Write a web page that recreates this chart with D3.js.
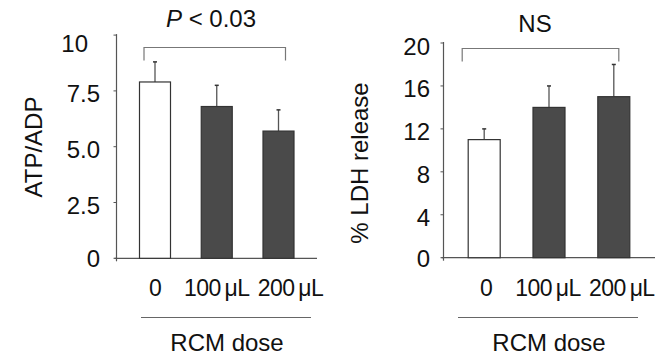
<!DOCTYPE html>
<html><head><meta charset="utf-8">
<script src="https://cdn.jsdelivr.net/npm/d3@7"></script>
<style>
body{margin:0;background:#fff;}
svg{display:block;font-family:"Liberation Sans",Arial,Helvetica,sans-serif;}
</style></head>
<body><svg id="c" width="669" height="357"></svg>
<script>
// Data
const categories = ["0", "100\u2009\u03bcL", "200\u2009\u03bcL"];
const atpValues = [7.9, 6.8, 5.7];
const atpErrors = [0.9, 0.95, 0.95];
const ldhValues = [11, 14, 15];
const ldhErrors = [1, 2, 3];
const atpTicks = [0, 2.5, 5.0, 7.5, 10];
const ldhTicks = [0, 4, 8, 12, 16, 20];
const barFills = ["#ffffff", "#4a4a4a", "#4a4a4a"];

const svg = d3.select("#c");

function panel(o){
  const g = svg.append("g");
  const y = d3.scaleLinear().domain(o.domain).range([o.base, o.top]);
  const x = d3.scalePoint().domain(categories).range(o.xr);
  const bw = o.bw;
  // axes
  g.append("line").attr("x1",o.ax).attr("x2",o.ax).attr("y1",y(o.domain[1])-1).attr("y2",o.base+3)
    .attr("stroke","#555").attr("stroke-width",1.2);
  g.append("line").attr("x1",o.ax-2).attr("x2",o.xend).attr("y1",y(0)).attr("y2",y(0))
    .attr("stroke","#555").attr("stroke-width",1.2);
  const ticks = g.selectAll(".t").data(o.ticks).enter();
  ticks.append("line").attr("x1",o.ax-3).attr("x2",o.ax).attr("y1",d=>y(d)).attr("y2",d=>y(d))
    .attr("stroke","#555").attr("stroke-width",1);
  ticks.append("text")
    .attr("x",d=>o.ax-o.tgap - (o.fmt(d)==="10"?12:0))
    .attr("y",d=>y(d) + (o.fmt(d)==="10"?5:0))
    .attr("dy",d=>d===0?"0.38em":"0.48em")
    .attr("text-anchor","end").attr("font-size",24).attr("fill","#111").text(o.fmt);
  // error bars
  const eb = g.selectAll(".e").data(o.values).enter();
  eb.append("line").attr("x1",(d,i)=>x(categories[i])).attr("x2",(d,i)=>x(categories[i]))
    .attr("y1",d=>y(d)).attr("y2",(d,i)=>y(d+o.errors[i])).attr("stroke","#555").attr("stroke-width",1.3);
  eb.append("line").attr("x1",(d,i)=>x(categories[i])-2).attr("x2",(d,i)=>x(categories[i])+2)
    .attr("y1",(d,i)=>y(d+o.errors[i])).attr("y2",(d,i)=>y(d+o.errors[i])).attr("stroke","#333").attr("stroke-width",1.5);
  // bars
  g.selectAll(".b").data(o.values).enter().append("rect")
    .attr("x",(d,i)=>x(categories[i])-bw/2).attr("width",bw)
    .attr("y",d=>y(d)).attr("height",d=>y(0)-y(d))
    .attr("fill",(d,i)=>barFills[i]).attr("stroke","#333").attr("stroke-width",1.2);
  // x labels
  g.selectAll(".xl").data(categories).enter().append("text")
    .attr("x",(d,i)=>x(d)+o.lshift[i]).attr("y",296).attr("text-anchor","middle")
    .attr("font-size",23).attr("letter-spacing","-0.6").attr("fill","#111").text(d=>d);
  // underline and axis title
  g.append("line").attr("x1",o.ul[0]).attr("x2",o.ul[1]).attr("y1",317.5).attr("y2",317.5)
    .attr("stroke","#666").attr("stroke-width",1);
  g.append("text").attr("x",(o.ul[0]+o.ul[1])/2+1).attr("y",350.5).attr("text-anchor","middle")
    .attr("font-size",24).attr("fill","#111").text("RCM dose");
  // y label
  g.append("text").attr("transform",`translate(${o.ylx},${o.yly}) rotate(-90)`)
    .attr("text-anchor","middle").attr("font-size",24).attr("fill","#111").text(o.ylabel);
  // bracket
  const b0 = x(categories[0])+o.br[0], b1 = x(categories[2])+o.br[1];
  g.append("path").attr("d",`M${b0},${o.brY+13}V${o.brY}H${b1}V${o.brY+13}`)
    .attr("fill","none").attr("stroke","#777").attr("stroke-width",1.2);
  const t = g.append("text").attr("x",o.titleX).attr("y",o.titleY).attr("text-anchor","middle")
    .attr("font-size",24).attr("fill","#111");
  if(o.title==="P"){
    t.append("tspan").attr("font-style","italic").text("P");
    t.append("tspan").text(" < 0.03");
  } else t.text(o.title);
}

panel({domain:[0,10], base:258.3, top:35.1, ax:116.5, xend:317, xr:[155,278.5], bw:31, tgap:16.5,
  values:atpValues, errors:atpErrors, ticks:atpTicks,
  fmt:d=>d===0?"0":(d===10?"10":d.toFixed(1)), lshift:[0,0,12],
  ul:[141,311], ylx:42, yly:147, ylabel:"ATP/ADP", br:[-11,7], brY:47.5,
  title:"P", titleX:211, titleY:27});
panel({domain:[0,20], base:257.7, top:43, ax:443.5, xend:655, xr:[484.2,613.8], bw:32, tgap:13.5,
  values:ldhValues, errors:ldhErrors, ticks:ldhTicks,
  fmt:d=>String(d), lshift:[2,-1,8],
  ul:[458,638], ylx:368, yly:163, ylabel:"% LDH release", br:[-22,5], brY:48.5,
  title:"NS", titleX:535, titleY:31.5});
</script></body></html>
